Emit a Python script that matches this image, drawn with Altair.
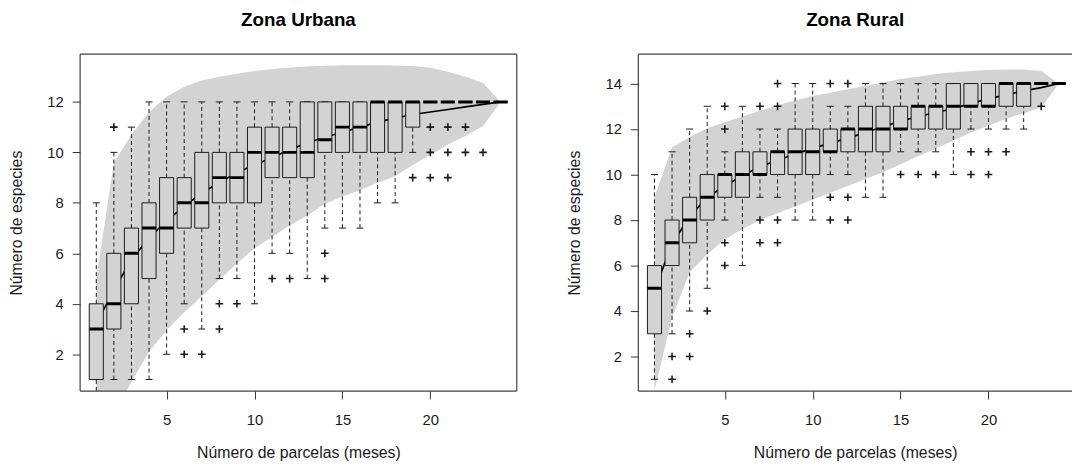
import altair as alt
import pandas as pd

# ---------------- data: Zona Urbana ----------------
urb_x = list(range(1, 25))
urb_q1 = [1, 3, 4, 5, 6, 7, 7, 8, 8, 8, 9, 9, 9, 10, 10, 10, 10, 10, 11, 12, 12, 12, 12, 12]
urb_med = [3, 4, 6, 7, 7, 8, 8, 9, 9, 10, 10, 10, 10, 10.5, 11, 11, 12, 12, 12, 12, 12, 12, 12, 12]
urb_q3 = [4, 6, 7, 8, 9, 9, 10, 10, 10, 11, 11, 11, 12, 12, 12, 12, 12, 12, 12, 12, 12, 12, 12, 12]
urb_wlo = [0, 1, 1, 1, 2, 4, 3, 5, 5, 4, 6, 6, 5, 7, 7, 7, 8, 8, 10, 12, 12, 12, 12, 12]
urb_whi = [8, 10, 11, 12, 12, 12, 12, 12, 12, 12, 12, 12, 12, 12, 12, 12, 12, 12, 12, 12, 12, 12, 12, 12]
urb_out_x = [2, 6, 6, 7, 8, 8, 9, 11, 12, 14, 14, 19, 20, 20, 20, 21, 21, 21, 22, 22, 23]
urb_out_y = [11, 3, 2, 2, 4, 3, 4, 5, 5, 6, 5, 9, 11, 10, 9, 11, 10, 9, 11, 10, 10]
urb_mean = [3.2, 4.55, 5.75, 6.6, 7.3, 7.85, 8.4, 8.8, 9.2, 9.5, 9.8, 10.1, 10.38, 10.6,
            10.8, 11.0, 11.2, 11.36, 11.5, 11.6, 11.7, 11.8, 11.9, 12.0]
urb_env_lo = [-2.0, -0.4, 0.9, 2.1, 2.95, 3.65, 4.3, 4.95, 5.6, 6.2, 6.65, 7.1, 7.5, 7.95,
              8.25, 8.5, 8.8, 9.05, 9.5, 9.9, 10.3, 10.65, 11.05, 12.0]
urb_env_hi = [5.0, 9.6, 10.7, 11.6, 12.2, 12.6, 12.85, 13.0, 13.12, 13.22, 13.3, 13.36, 13.4,
              13.43, 13.45, 13.45, 13.45, 13.44, 13.42, 13.35, 13.2, 13.0, 12.75, 12.0]

# ---------------- data: Zona Rural ----------------
rur_x = list(range(1, 25))
rur_q1 = [3, 6, 7, 8, 9, 9, 10, 10, 10, 10, 11, 11, 11, 11, 12, 12, 12, 12, 13, 13, 13, 13, 14, 14]
rur_med = [5, 7, 8, 9, 10, 10, 10, 11, 11, 11, 11, 12, 12, 12, 12, 13, 13, 13, 13, 13, 14, 14, 14, 14]
rur_q3 = [6, 8, 9, 10, 10, 11, 11, 11, 12, 12, 12, 12, 13, 13, 13, 13, 13, 14, 14, 14, 14, 14, 14, 14]
rur_wlo = [1, 3, 4, 5, 8, 6, 9, 9, 8, 8, 10, 10, 9, 9, 11, 11, 11, 10, 12, 12, 12, 12, 14, 14]
rur_whi = [10, 11, 12, 13, 11, 13, 12, 12, 14, 14, 13, 13, 14, 14, 14, 14, 14, 14, 14, 14, 14, 14, 14, 14]
rur_out_x = [2, 2, 3, 3, 4, 5, 5, 5, 5, 7, 7, 7, 8, 8, 8, 8, 11, 11, 11, 12, 12, 12,
             15, 16, 17, 19, 19, 20, 20, 21, 23]
rur_out_y = [2, 1, 3, 2, 4, 13, 12, 7, 6, 13, 8, 7, 14, 13, 8, 7, 14, 9, 8, 14, 9, 8,
             10, 10, 10, 11, 10, 11, 10, 11, 13]
rur_mean = [4.9, 6.95, 8.15, 9.0, 9.5, 9.95, 10.35, 10.63, 10.9, 11.15, 11.38, 11.6, 11.85,
            12.1, 12.35, 12.55, 12.73, 12.9, 13.13, 13.33, 13.5, 13.68, 13.82, 14.0]
rur_env_lo = [0.5, 3.7, 5.7, 6.5, 7.15, 7.6, 8.0, 8.3, 8.6, 8.9, 9.2, 9.5, 9.8, 10.1, 10.45,
              10.8, 11.15, 11.5, 11.85, 12.15, 12.45, 12.7, 12.95, 14.0]
rur_env_hi = [9.0, 11.2, 11.65, 12.03, 12.3, 12.55, 12.8, 13.05, 13.25, 13.45, 13.6, 13.75,
              13.9, 14.05, 14.2, 14.3, 14.42, 14.5, 14.55, 14.6, 14.62, 14.62, 14.55, 14.0]

x_ticks = [5, 10, 15, 20]
urb_y_ticks = [2, 4, 6, 8, 10, 12]
rur_y_ticks = [2, 4, 6, 8, 10, 12, 14]

# ---------------- styles ----------------
FONT = "Liberation Sans"
GRAY = "#D3D3D3"
INK = "#1a1a1a"
FRAME = "#404040"
BOX_HALF = 0.4
CAP_HALF = 0.2
H = 341
PLUS = "M-1,0L1,0M0,-1L0,1"


def panel(title, xs, q1, med, q3, wlo, whi, out_x, out_y, mean, lo, hi,
          ydom, yticks, xdom, W, right_border=True):
    stats = pd.DataFrame(dict(x=xs, q1=q1, med=med, q3=q3, wlo=wlo, whi=whi))
    curve = pd.DataFrame(dict(x=xs, mean=mean, lo=lo, hi=hi))
    outs = pd.DataFrame(dict(x=out_x, y=out_y))
    one = pd.DataFrame({"k": [0]})

    xsc = alt.Scale(domain=xdom, nice=False, zero=False)
    ysc = alt.Scale(domain=ydom, nice=False, zero=False)
    xax = alt.Axis(values=x_ticks, title="Número de parcelas (meses)",
                   labelPadding=14, titlePadding=17)
    yax = alt.Axis(values=yticks, title="Número de especies", titlePadding=23)

    def X(f):
        return alt.X(f, type="quantitative", scale=xsc, axis=xax)

    def Y(f):
        return alt.Y(f, type="quantitative", scale=ysc, axis=yax)

    env = alt.Chart(curve).mark_area(color=GRAY, clip=True).encode(
        x=X("x"), y=Y("lo"), y2="hi:Q")
    line = alt.Chart(curve).mark_line(color="black", strokeWidth=1.7, clip=True).encode(
        x=X("x"), y=Y("mean"))
    base = alt.Chart(stats).transform_calculate(
        b1=alt.datum.x - BOX_HALF, b2=alt.datum.x + BOX_HALF,
        c1=alt.datum.x - CAP_HALF, c2=alt.datum.x + CAP_HALF,
    )
    wh_up = base.mark_rule(color=INK, strokeWidth=1, strokeDash=[4, 3], clip=True).encode(
        x=X("x"), y=Y("q3"), y2="whi:Q")
    wh_lo = base.mark_rule(color=INK, strokeWidth=1, strokeDash=[4, 3], clip=True).encode(
        x=X("x"), y=Y("wlo"), y2="q1:Q")
    cap_up = base.mark_rule(color=INK, strokeWidth=1, clip=True).encode(
        x=X("c1"), x2="c2:Q", y=Y("whi"))
    cap_lo = base.mark_rule(color=INK, strokeWidth=1, clip=True).encode(
        x=X("c1"), x2="c2:Q", y=Y("wlo"))
    box = base.mark_rect(fill=GRAY, stroke=INK, strokeWidth=1, clip=True).encode(
        x=X("b1"), x2="b2:Q", y=Y("q1"), y2="q3:Q")
    medl = base.mark_rule(color="black", strokeWidth=3, clip=True).encode(
        x=X("b1"), x2="b2:Q", y=Y("med"))
    pts = alt.Chart(outs).mark_point(shape=PLUS, filled=False, color=INK, size=60,
                                     strokeWidth=1.6, opacity=1, clip=True).encode(
        x=X("x"), y=Y("y"))

    fr = alt.Chart(one)
    frame = [
        fr.mark_rule(color=FRAME, strokeWidth=1.2).encode(
            x=alt.value(0), x2=alt.value(W), y=alt.value(0)),
        fr.mark_rule(color=FRAME, strokeWidth=1.2).encode(
            x=alt.value(0), x2=alt.value(W), y=alt.value(H)),
        fr.mark_rule(color=FRAME, strokeWidth=1.2).encode(
            x=alt.value(0), y=alt.value(0), y2=alt.value(H)),
    ]
    if right_border:
        frame.append(fr.mark_rule(color=FRAME, strokeWidth=1.2).encode(
            x=alt.value(W), y=alt.value(0), y2=alt.value(H)))

    return alt.layer(env, line, wh_up, wh_lo, cap_up, cap_lo, box, medl, pts,
                     *frame).properties(
        width=W, height=H,
        title=alt.TitleParams(title, fontSize=19, fontWeight="bold", font=FONT,
                              color="black", anchor="middle", baseline="alphabetic",
                              offset=9),
    )


left = panel("Zona Urbana", urb_x, urb_q1, urb_med, urb_q3, urb_wlo, urb_whi,
             urb_out_x, urb_out_y, urb_mean, urb_env_lo, urb_env_hi,
             [0.54, 13.89], urb_y_ticks, [0.08, 24.92], 442)
right = panel("Zona Rural", rur_x, rur_q1, rur_med, rur_q3, rur_wlo, rur_whi,
              rur_out_x, rur_out_y, rur_mean, rur_env_lo, rur_env_hi,
              [0.48, 15.29], rur_y_ticks, [0.08, 24.75], 439, right_border=False)

chart = alt.hconcat(left, right, spacing=49).properties(
    padding={"left": 0, "top": 0, "right": 0, "bottom": 0}
).configure_view(stroke=None).configure_axis(
    labelFont=FONT, labelFontSize=15, labelColor=INK, labelPadding=9,
    titleFont=FONT, titleFontSize=16, titleFontWeight="normal", titleColor=INK,
    tickSize=8, tickColor="#333333", tickWidth=1, domain=False, grid=False,
)

chart.save("out.html", embed_options={"renderer": "svg", "actions": False})
